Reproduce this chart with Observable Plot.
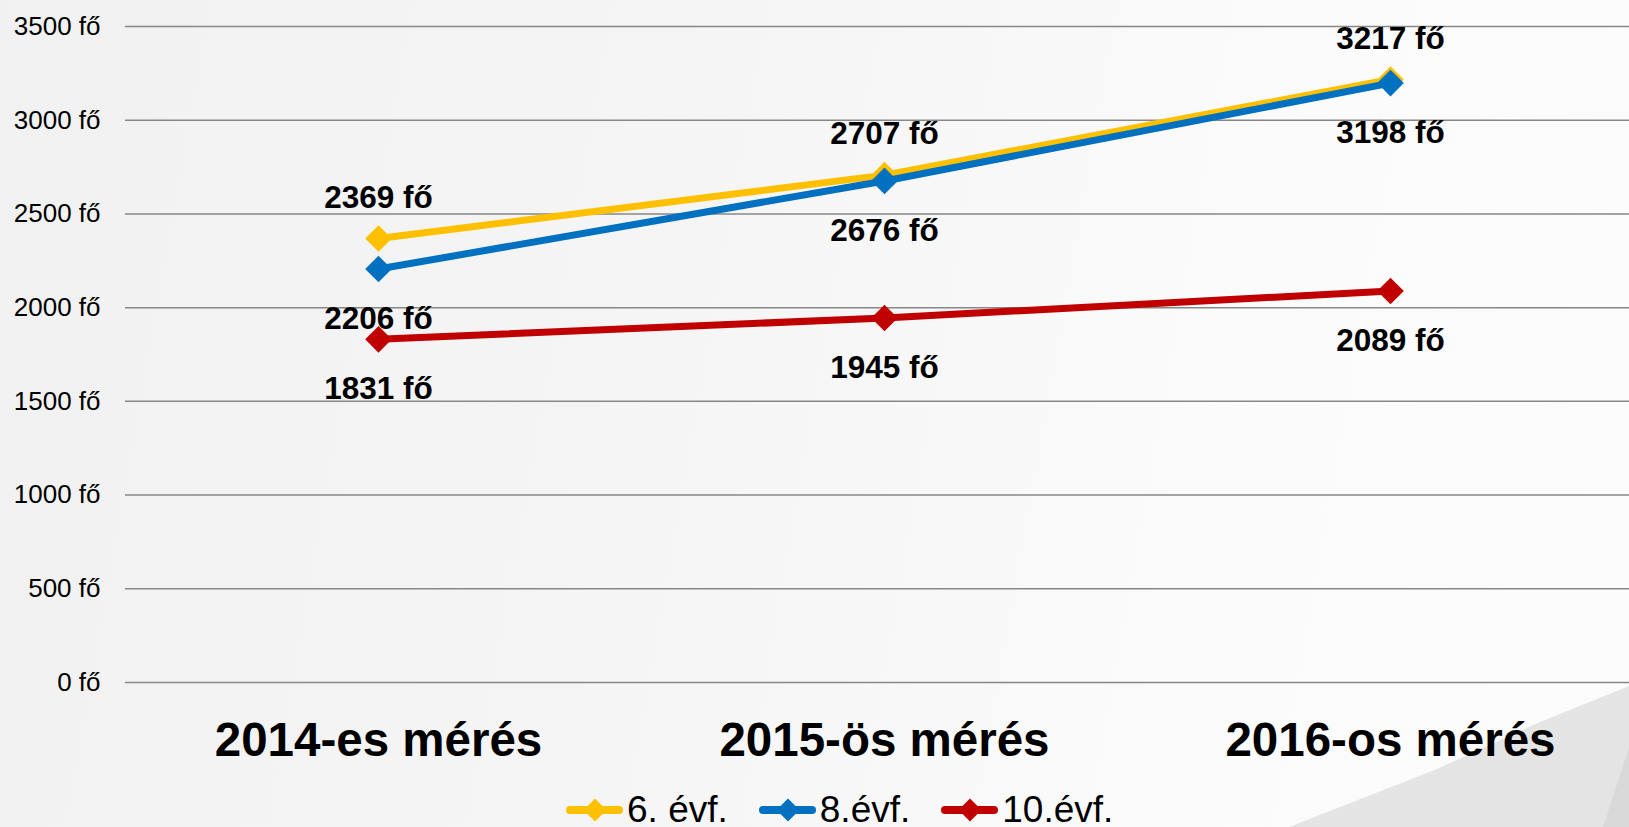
<!DOCTYPE html>
<html>
<head>
<meta charset="utf-8">
<script src="https://cdn.jsdelivr.net/npm/d3@7"></script>
<script src="https://cdn.jsdelivr.net/npm/@observablehq/plot@0.6"></script>
<style>
  html, body { margin: 0; padding: 0; }
  body {
    width: 1629px; height: 827px; overflow: hidden; position: relative;
    background: linear-gradient(100deg, #f1f1f1 0%, #f5f5f5 40%, #fbfbfb 75%, #fcfcfc 100%);
    font-family: "Liberation Sans", Arial, sans-serif;
  }
  #swoosh {
    position: absolute; left: 0; top: 0; width: 1629px; height: 827px;
    background: linear-gradient(160deg, #ebebeb 0%, #e4e4e4 100%);
    clip-path: polygon(1289px 827px, 1437px 769px, 1540px 722px, 1629px 686px, 1629px 827px);
  }
  #swoosh2 {
    position: absolute; left: 0; top: 0; width: 1629px; height: 827px;
    background: linear-gradient(90deg, #e2e2e2 0%, #d9d9d9 100%);
    clip-path: polygon(1603px 827px, 1615px 790px, 1629px 748px, 1629px 827px);
  }
  #chart { position: relative; }
  #legend {
    position: relative; height: 52px; box-sizing: border-box;
    padding-top: 17px; padding-left: 566px;
    font-size: 37px; line-height: 36px; white-space: nowrap; color: #000;
  }
  .item { display: inline-block; margin-right: 31px; }
  .item svg { vertical-align: top; margin-right: 4px; }
</style>
</head>
<body>
<div id="swoosh"></div>
<div id="swoosh2"></div>
<div id="chart"></div>
<div id="legend"></div>
<script>
const categories = ["2014-es mérés", "2015-ös mérés", "2016-os mérés"];
const seriesNames = ["6. évf.", "8.évf.", "10.évf."];
const values6 = [2369, 2707, 3217];
const values8 = [2206, 2676, 3198];
const values10 = [1831, 1945, 2089];
const yTicks = [0, 500, 1000, 1500, 2000, 2500, 3000, 3500];
const colors = ["#FFC000", "#0070C0", "#C00000"];

const allValues = [values6, values8, values10];
const labelDy = [-41, 50, 50];

const data = allValues.flatMap((vals, s) =>
  vals.map((v, i) => ({ series: seriesNames[s], cat: categories[i], value: v, si: s }))
);

const seriesMarks = seriesNames.flatMap((name, s) => {
  const d = data.filter(r => r.si === s);
  return [
    Plot.line(d, { x: "cat", y: "value", stroke: colors[s], strokeWidth: 7, strokeLinejoin: "round" }),
    Plot.dot(d, { x: "cat", y: "value", symbol: "diamond2", r: 12, fill: colors[s], stroke: "none" })
  ];
});

const labelMarks = seriesNames.map((name, s) =>
  Plot.text(data.filter(r => r.si === s), {
    x: "cat", y: "value", text: d => d.value + " fő",
    dy: labelDy[s], fontSize: 31.5, fontWeight: "bold", fill: "#000"
  })
);

const chart = Plot.plot({
  width: 1629,
  height: 775,
  marginLeft: 125,
  marginRight: 0,
  marginTop: 26,
  marginBottom: 93,
  style: { fontFamily: "'Liberation Sans', Arial, sans-serif", fontSize: "26px", background: "transparent", color: "#000", overflow: "visible" },
  x: { type: "point", domain: categories, range: [377, 1390], padding: 0, axis: null },
  y: { domain: [0, 3500], axis: null, label: null },
  marks: [
    Plot.ruleY(yTicks, { stroke: "#878787", strokeWidth: 1.5 }),
    Plot.axisY(yTicks, { tickSize: 0, tickPadding: 25, tickFormat: d => d + " fő", fontSize: 26, fill: "#000", label: null }),
    Plot.text(categories, { x: d => d, frameAnchor: "bottom", dy: 73, fontSize: 47.5, fontWeight: "bold", fill: "#000" }),
    ...seriesMarks,
    ...labelMarks
  ]
});
document.getElementById("chart").appendChild(chart);

const legend = document.getElementById("legend");
seriesNames.forEach((name, s) => {
  const item = document.createElement("span");
  item.className = "item";
  item.innerHTML =
    `<svg width="57" height="36" viewBox="0 0 57 36">
       <line x1="4" y1="18" x2="53" y2="18" stroke="${colors[s]}" stroke-width="8" stroke-linecap="round"/>
       <path d="M29 6.5 L40.5 18 L29 29.5 L17.5 18 Z" fill="${colors[s]}"/>
     </svg>${name}`;
  legend.appendChild(item);
});
</script>
</body>
</html>
